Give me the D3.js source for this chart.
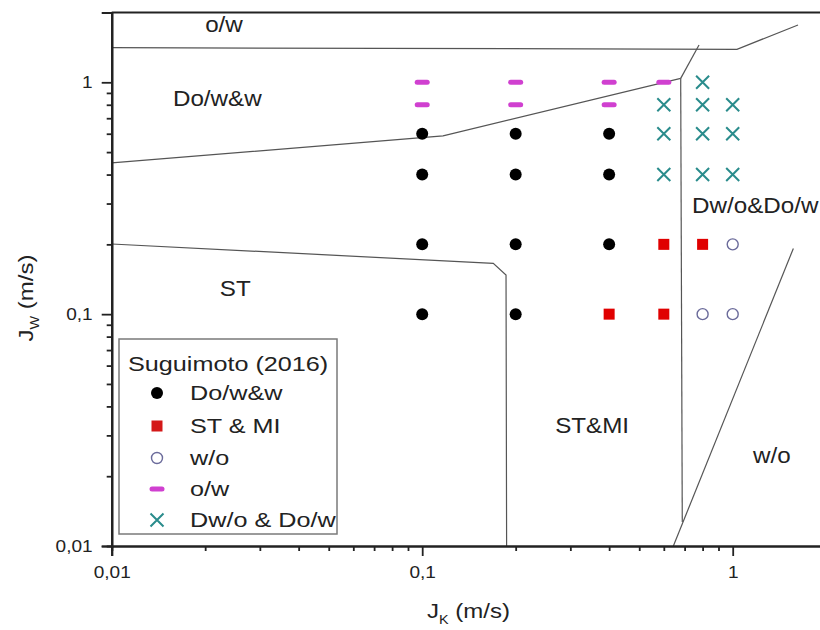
<!DOCTYPE html>
<html>
<head>
<meta charset="utf-8">
<script src="https://cdn.jsdelivr.net/npm/d3@7"></script>
<style>
  html, body { margin: 0; padding: 0; background: #fff; }
  svg { display: block; }
  text { font-family: "Liberation Sans", Arial, sans-serif; fill: #222; }
</style>
</head>
<body>
<svg id="chart" width="820" height="630"></svg>
<script>
// ---------- data ----------
const xTickValues = [0.01, 0.1, 1];
const xTickLabels = ["0,01", "0,1", "1"];
const yTickValues = [0.01, 0.1, 1];
const yTickLabels = ["0,01", "0,1", "1"];

const seriesNames = ["Do/w&w", "ST & MI", "w/o", "o/w", "Dw/o & Do/w"];
const dowwPoints = [[0.1,0.6],[0.2,0.6],[0.4,0.6],[0.1,0.4],[0.2,0.4],[0.4,0.4],[0.1,0.2],[0.2,0.2],[0.4,0.2],[0.1,0.1],[0.2,0.1]];
const stmiPoints = [[0.6,0.2],[0.8,0.2],[0.4,0.1],[0.6,0.1]];
const woPoints   = [[1.0,0.2],[0.8,0.1],[1.0,0.1]];
const owPoints   = [[0.1,1.0],[0.2,1.0],[0.4,1.0],[0.6,1.0],[0.1,0.8],[0.2,0.8],[0.4,0.8]];
const dwoPoints  = [[0.8,1.0],[0.6,0.8],[0.8,0.8],[1.0,0.8],[0.6,0.6],[0.8,0.6],[1.0,0.6],[0.6,0.4],[0.8,0.4],[1.0,0.4]];

// flow-pattern boundaries (J_K, J_W)
const boundaryOW   = [[0.01,1.41],[1.032,1.388],[1.623,1.767]];
const boundaryDiag = [[0.779,1.449],[0.680,1.04]];
const boundaryDoww = [[0.01,0.449],[0.1167,0.587],[0.680,1.04]];
const boundaryVert = [[0.680,1.04],[0.688,0.0127]];
const boundaryWO   = [[1.568,0.192],[0.644,0.01]];
const boundaryST   = [[0.01,0.2007],[0.1694,0.1657],[0.1862,0.1476],[0.187,0.01]];
const boundaries = [boundaryOW, boundaryDiag, boundaryDoww, boundaryVert, boundaryWO, boundaryST];

const regionNames = ["o/w", "Do/w&w", "ST", "Dw/o&Do/w", "ST&MI", "w/o"];
const regionAnchors = [[0.02,1.65],[0.01575,0.79],[0.0223,0.1198],[0.74,0.273],[0.268,0.0307],[1.163,0.0228]];

// ---------- drawing ----------
const svg = d3.select("#chart");
const x0 = 111.7, yBottom = 546;
const x = d3.scaleLog().domain([0.01, 2]).range([x0, x0 + 310.5 * Math.log10(200)]);
const y = d3.scaleLog().domain([0.01, 2]).range([yBottom, yBottom - 231.85 * Math.log10(200)]);
const yTop = y(2);

const colors = { doww: "#000000", stmi: "#e00000", wo: "#6b6b9b", ow: "#d040d0", dwo: "#2a8c8c" };

// boundaries
const line = d3.line().x(d => x(d[0])).y(d => y(d[1]));
svg.append("g").selectAll("path").data(boundaries).join("path")
  .attr("d", line).attr("fill", "none").attr("stroke", "#555").attr("stroke-width", 1.2);

// region labels
const rs = 1.1;
svg.append("g").selectAll("text").data(regionNames).join("text")
  .attr("transform", (d, i) => `translate(${x(regionAnchors[i][0])},${y(regionAnchors[i][1])}) scale(${rs},1)`)
  .attr("font-size", 22).text(d => d);

// markers
function drawDots(g, pts) {
  g.selectAll("circle").data(pts).join("circle")
    .attr("cx", d => x(d[0])).attr("cy", d => y(d[1])).attr("r", 6).attr("fill", colors.doww);
}
function drawSquares(g, pts) {
  g.selectAll("rect").data(pts).join("rect")
    .attr("x", d => x(d[0]) - 5.5).attr("y", d => y(d[1]) - 5.5)
    .attr("width", 11).attr("height", 11).attr("fill", colors.stmi);
}
function drawOpen(g, pts) {
  g.selectAll("circle").data(pts).join("circle")
    .attr("cx", d => x(d[0])).attr("cy", d => y(d[1])).attr("r", 5.5)
    .attr("fill", "none").attr("stroke", colors.wo).attr("stroke-width", 1.4);
}
function drawDash(g, pts) {
  g.selectAll("rect").data(pts).join("rect")
    .attr("x", d => x(d[0]) - 7.5).attr("y", d => y(d[1]) - 2.5)
    .attr("width", 15).attr("height", 5).attr("rx", 2.5).attr("fill", colors.ow);
}
function drawCross(g, pts) {
  const s = 6.5;
  g.selectAll("path").data(pts).join("path")
    .attr("d", d => { const cx = x(d[0]), cy = y(d[1]);
      return `M${cx-s},${cy-s}L${cx+s},${cy+s}M${cx-s},${cy+s}L${cx+s},${cy-s}`; })
    .attr("stroke", colors.dwo).attr("stroke-width", 2).attr("fill", "none");
}
drawDash(svg.append("g"), owPoints);
drawDots(svg.append("g"), dowwPoints);
drawSquares(svg.append("g"), stmiPoints);
drawOpen(svg.append("g"), woPoints);
drawCross(svg.append("g"), dwoPoints);

// axes
const minorVals = [];
for (let e = -2; e <= 0; e++) for (let m = 1; m <= 9; m++) { const v = +(m * Math.pow(10, e)).toPrecision(3); if (v <= 2) minorVals.push(v); }
minorVals.push(2);
const isMajor = v => xTickValues.some(t => Math.abs(t - v) < 1e-9);

const gx = svg.append("g").attr("transform", `translate(0,${yBottom})`)
  .call(d3.axisBottom(x).tickValues(minorVals.filter(v => !isMajor(v))).tickSize(5).tickFormat(""));
const gxMaj = svg.append("g").attr("transform", `translate(0,${yBottom})`)
  .call(d3.axisBottom(x).tickValues(xTickValues).tickSize(10).tickFormat((d, i) => xTickLabels[i]));
const gy = svg.append("g").attr("transform", `translate(${x0},0)`)
  .call(d3.axisLeft(y).tickValues(minorVals.filter(v => !isMajor(v))).tickSize(5).tickFormat(""));
const gyMaj = svg.append("g").attr("transform", `translate(${x0},0)`)
  .call(d3.axisLeft(y).tickValues(yTickValues).tickSize(10).tickFormat((d, i) => yTickLabels[i]));
[gx, gxMaj, gy, gyMaj].forEach(g => {
  g.select(".domain").attr("stroke", "#222").attr("stroke-width", 2.2);
  g.selectAll(".tick line").attr("stroke", "#222").attr("stroke-width", 1.8);
});
gxMaj.selectAll(".tick text").attr("font-size", 17).attr("font-family", "Liberation Sans, Arial, sans-serif")
  .attr("fill", "#222").attr("y", 20).attr("transform", "scale(1.12,1)");
gyMaj.selectAll(".tick text").attr("font-size", 17).attr("font-family", "Liberation Sans, Arial, sans-serif")
  .attr("fill", "#222").attr("x", -17).attr("transform", "scale(1.12,1)");

// top frame line
svg.append("line").attr("x1", x0).attr("x2", 820).attr("y1", yTop).attr("y2", yTop)
  .attr("stroke", "#222").attr("stroke-width", 2.2);

// axis titles
const xt = svg.append("text").attr("transform", "translate(427,618) scale(1.2,1)").attr("font-size", 20);
xt.append("tspan").text("J");
xt.append("tspan").attr("font-size", 12).attr("dy", 6).text("K");
xt.append("tspan").attr("dy", -6).text(" (m/s)");

const yt = svg.append("text").attr("transform", "translate(33,298) rotate(-90) scale(1.2,1)")
  .attr("font-size", 20).attr("text-anchor", "middle");
yt.append("tspan").text("J");
yt.append("tspan").attr("font-size", 12).attr("dy", 6).text("W");
yt.append("tspan").attr("dy", -6).text(" (m/s)");

// legend
const lg = svg.append("g");
lg.append("rect").attr("x", 119).attr("y", 339).attr("width", 218).attr("height", 195)
  .attr("fill", "white").attr("stroke", "#7a7a7a").attr("stroke-width", 1.5);
lg.append("text").attr("transform", "translate(128,371) scale(1.2,1)").attr("font-size", 21).text("Suguimoto (2016)");
const rowY = [393, 426, 458, 489, 520];
const symX = 157;
lg.append("circle").attr("cx", symX).attr("cy", rowY[0]).attr("r", 6).attr("fill", colors.doww);
lg.append("rect").attr("x", symX - 5.5).attr("y", rowY[1] - 5.5).attr("width", 11).attr("height", 11).attr("fill", "#d41818");
lg.append("circle").attr("cx", symX).attr("cy", rowY[2]).attr("r", 5.5).attr("fill", "none").attr("stroke", colors.wo).attr("stroke-width", 1.4);
lg.append("rect").attr("x", symX - 7.5).attr("y", rowY[3] - 2.5).attr("width", 15).attr("height", 5).attr("rx", 2.5).attr("fill", colors.ow);
lg.append("path").attr("d", `M${symX-6.5},${rowY[4]-6.5}L${symX+6.5},${rowY[4]+6.5}M${symX-6.5},${rowY[4]+6.5}L${symX+6.5},${rowY[4]-6.5}`)
  .attr("stroke", colors.dwo).attr("stroke-width", 2);
lg.selectAll("text.entry").data(seriesNames).join("text").attr("class", "entry")
  .attr("transform", (d, i) => `translate(190,${rowY[i] + 7}) scale(1.2,1)`)
  .attr("font-size", 21).text(d => d);
</script>
</body>
</html>
